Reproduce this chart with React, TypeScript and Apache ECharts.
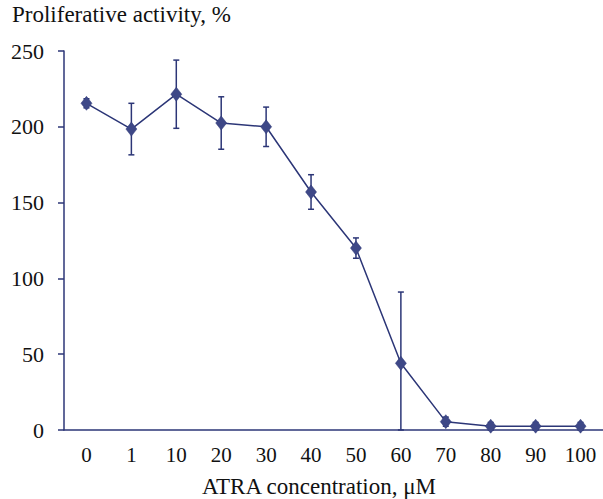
import React, { useEffect, useRef } from "react";
import * as echarts from "echarts";

const categories = ["0", "1", "10", "20", "30", "40", "50", "60", "70", "80", "90", "100"];
const means = [215.5, 198.5, 221.5, 202.5, 200, 157, 120, 44, 5.5, 2.5, 2.5, 2.5];
const errors = [3, 17, 22.5, 17.3, 13, 11.4, 6.7, 47, 3, 2.5, 2.5, 2.5];
const yTicks = [0, 50, 100, 150, 200, 250];

const LINE = "#2C3677";
const FILL = "#3E4887";
const FONT = "'Liberation Serif', 'Times New Roman', serif";

export default function App() {
  const ref = useRef<HTMLDivElement>(null);
  useEffect(() => {
    if (!ref.current) return;
    const chart = echarts.init(ref.current, null, { renderer: "svg" });
    const errData = means.map((m, i) => [i, Math.max(0, m - errors[i]), m + errors[i]]);
    chart.setOption({
      animation: false,
      grid: { left: 64, top: 51, width: 544, height: 379, containLabel: false },
      graphic: [
        {
          type: "text",
          left: 12,
          top: 3,
          style: { text: "Proliferative activity, %", font: `23px ${FONT}`, fill: "#111" },
        },
        {
          type: "text",
          left: 202,
          top: 475,
          style: { text: "ATRA concentration, μM", font: `23px ${FONT}`, fill: "#111" },
        },
      ],
      xAxis: {
        type: "category",
        data: categories,
        boundaryGap: true,
        axisLine: { lineStyle: { color: LINE, width: 1.5 } },
        axisTick: { alignWithLabel: true, length: 5, lineStyle: { color: LINE, width: 1.5 } },
        axisLabel: { color: "#111", fontFamily: FONT, fontSize: 21, margin: 14 },
        splitLine: { show: false },
      },
      yAxis: {
        type: "value",
        min: yTicks[0],
        max: yTicks[yTicks.length - 1],
        interval: 50,
        axisLine: { show: true, lineStyle: { color: LINE, width: 1.5 } },
        axisTick: { show: true, length: 6, lineStyle: { color: LINE, width: 1.5 } },
        axisLabel: { color: "#111", fontFamily: FONT, fontSize: 22, margin: 20 },
        splitLine: { show: false },
      },
      series: [
        {
          type: "custom",
          data: errData,
          z: 1,
          renderItem: (params: any, api: any) => {
            const x = api.value(0);
            const lo = api.coord([x, api.value(1)]);
            const hi = api.coord([x, api.value(2)]);
            const cap = 3;
            const style = { stroke: LINE, lineWidth: 1.5 };
            return {
              type: "group",
              children: [
                { type: "line", shape: { x1: lo[0], y1: lo[1], x2: hi[0], y2: hi[1] }, style },
                { type: "line", shape: { x1: hi[0] - cap, y1: hi[1], x2: hi[0] + cap, y2: hi[1] }, style },
                { type: "line", shape: { x1: lo[0] - cap, y1: lo[1], x2: lo[0] + cap, y2: lo[1] }, style },
              ],
            };
          },
        },
        {
          type: "line",
          data: means,
          z: 2,
          symbol: "diamond",
          symbolSize: [11, 14],
          lineStyle: { color: LINE, width: 1.5 },
          itemStyle: { color: FILL, borderColor: LINE, borderWidth: 0.5 },
        },
      ],
    });
    return () => chart.dispose();
  }, []);
  return (
    <div
      ref={ref}
      style={{ position: "fixed", left: 0, top: 0, width: 603, height: 499, background: "#fff" }}
    />
  );
}
